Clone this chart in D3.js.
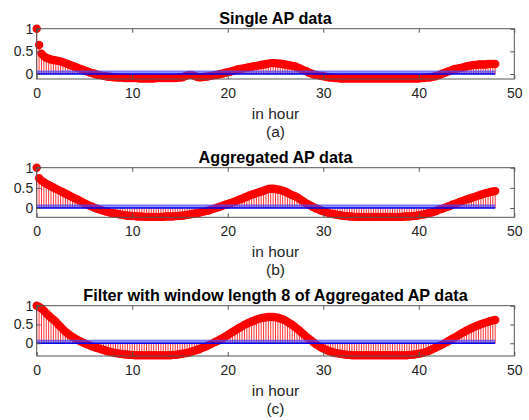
<!DOCTYPE html>
<html>
<head>
<meta charset="utf-8">
<script src="https://cdn.jsdelivr.net/npm/d3@7"></script>
<style>
  html, body { margin: 0; padding: 0; background: #fff; }
  svg { display: block; font-family: "Liberation Sans", Arial, Helvetica, sans-serif; }
</style>
</head>
<body>
<svg id="chart" width="529" height="420"></svg>
<script>
// ---- data (lag step = 0.25 hour, lags 0..48) ----
const lagStep = 0.25;

const singleAP = [
  1, 0.64, 0.45, 0.39,
  0.36, 0.34, 0.32, 0.31,
  0.30, 0.29, 0.28, 0.26,
  0.24, 0.22, 0.20, 0.18,
  0.16, 0.14, 0.12, 0.10,
  0.08, 0.06, 0.04, 0.02,
  0.01, -0.01, -0.02, -0.03,
  -0.04, -0.05, -0.06, -0.06,
  -0.07, -0.07, -0.08, -0.08,
  -0.08, -0.09, -0.09, -0.09,
  -0.09, -0.09, -0.09, -0.10,
  -0.10, -0.10, -0.10, -0.10,
  -0.10, -0.10, -0.09, -0.09,
  -0.09, -0.09, -0.09, -0.09,
  -0.09, -0.09, -0.09, -0.08,
  -0.08, -0.07, -0.05, -0.03,
  -0.02, -0.02, -0.04, -0.06,
  -0.07, -0.07, -0.06, -0.06,
  -0.05, -0.04, -0.03, -0.02,
  -0.01, 0.00, 0.01, 0.03,
  0.04, 0.05, 0.07, 0.08,
  0.10, 0.11, 0.12, 0.13,
  0.14, 0.15, 0.16, 0.17,
  0.18, 0.19, 0.20, 0.21,
  0.22, 0.23, 0.24, 0.24,
  0.24, 0.23, 0.23, 0.22,
  0.21, 0.20, 0.19, 0.18,
  0.17, 0.15, 0.13, 0.10,
  0.08, 0.06, 0.03, 0.01,
  -0.01, -0.02, -0.03, -0.04,
  -0.05, -0.06, -0.07, -0.08,
  -0.08, -0.09, -0.09, -0.10,
  -0.10, -0.10, -0.10, -0.10,
  -0.10, -0.10, -0.10, -0.10,
  -0.10, -0.10, -0.10, -0.10,
  -0.10, -0.10, -0.10, -0.10,
  -0.10, -0.10, -0.10, -0.10,
  -0.10, -0.10, -0.10, -0.10,
  -0.10, -0.10, -0.10, -0.10,
  -0.10, -0.10, -0.10, -0.10,
  -0.10, -0.09, -0.09, -0.08,
  -0.08, -0.07, -0.06, -0.05,
  -0.03, -0.01, 0.01, 0.03,
  0.05, 0.07, 0.09, 0.11,
  0.12, 0.13, 0.14, 0.15,
  0.17, 0.18, 0.19, 0.20,
  0.20, 0.21, 0.21, 0.21,
  0.21, 0.22, 0.22, 0.22,
  0.22
];

const aggregatedAP = [
  1, 0.74, 0.68, 0.64,
  0.60, 0.57, 0.54, 0.51,
  0.48, 0.45, 0.42, 0.39,
  0.36, 0.33, 0.30, 0.27,
  0.24, 0.21, 0.18, 0.15,
  0.12, 0.09, 0.06, 0.04,
  0.01, -0.01, -0.03, -0.05,
  -0.07, -0.09, -0.10, -0.12,
  -0.13, -0.14, -0.15, -0.16,
  -0.17, -0.18, -0.19, -0.19,
  -0.20, -0.20, -0.21, -0.21,
  -0.21, -0.22, -0.22, -0.22,
  -0.22, -0.22, -0.22, -0.22,
  -0.22, -0.22, -0.21, -0.21,
  -0.21, -0.21, -0.20, -0.20,
  -0.19, -0.19, -0.18, -0.17,
  -0.16, -0.15, -0.14, -0.13,
  -0.12, -0.10, -0.09, -0.07,
  -0.06, -0.04, -0.02, 0.00,
  0.02, 0.04, 0.06, 0.08,
  0.10, 0.12, 0.14, 0.16,
  0.19, 0.21, 0.23, 0.26,
  0.28, 0.31, 0.33, 0.35,
  0.37, 0.39, 0.41, 0.43,
  0.45, 0.47, 0.48, 0.48,
  0.47, 0.46, 0.45, 0.43,
  0.41, 0.38, 0.35, 0.32,
  0.30, 0.27, 0.23, 0.19,
  0.15, 0.11, 0.08, 0.05,
  0.02, -0.01, -0.03, -0.06,
  -0.08, -0.10, -0.12, -0.14,
  -0.15, -0.16, -0.17, -0.18,
  -0.19, -0.20, -0.20, -0.21,
  -0.21, -0.22, -0.22, -0.22,
  -0.22, -0.22, -0.22, -0.22,
  -0.22, -0.22, -0.22, -0.22,
  -0.22, -0.22, -0.22, -0.22,
  -0.22, -0.22, -0.22, -0.22,
  -0.22, -0.22, -0.21, -0.21,
  -0.21, -0.20, -0.20, -0.19,
  -0.18, -0.17, -0.16, -0.15,
  -0.13, -0.12, -0.10, -0.08,
  -0.05, -0.03, -0.01, 0.01,
  0.03, 0.05, 0.08, 0.10,
  0.12, 0.15, 0.17, 0.19,
  0.21, 0.23, 0.25, 0.27,
  0.29, 0.31, 0.33, 0.35,
  0.37, 0.38, 0.40, 0.41,
  0.42
];

const filteredAP = [
  1, 0.97, 0.93, 0.87,
  0.80, 0.74, 0.68, 0.63,
  0.57, 0.50, 0.44, 0.37,
  0.31, 0.26, 0.21, 0.17,
  0.13, 0.09, 0.06, 0.03,
  0.00, -0.03, -0.05, -0.08,
  -0.10, -0.12, -0.14, -0.16,
  -0.18, -0.20, -0.22, -0.23,
  -0.25, -0.26, -0.27, -0.28,
  -0.29, -0.30, -0.30, -0.31,
  -0.31, -0.32, -0.32, -0.32,
  -0.32, -0.32, -0.32, -0.32,
  -0.32, -0.32, -0.32, -0.32,
  -0.32, -0.32, -0.32, -0.32,
  -0.32, -0.31, -0.31, -0.30,
  -0.29, -0.28, -0.27, -0.26,
  -0.24, -0.22, -0.20, -0.18,
  -0.16, -0.13, -0.11, -0.08,
  -0.05, -0.02, 0.01, 0.04,
  0.07, 0.11, 0.14, 0.18,
  0.22, 0.26, 0.30, 0.34,
  0.38, 0.42, 0.45, 0.49,
  0.52, 0.55, 0.58, 0.60,
  0.63, 0.65, 0.67, 0.68,
  0.69, 0.70, 0.70, 0.70,
  0.69, 0.68, 0.66, 0.64,
  0.61, 0.57, 0.53, 0.49,
  0.44, 0.39, 0.34, 0.28,
  0.23, 0.17, 0.12, 0.07,
  0.02, -0.03, -0.07, -0.11,
  -0.14, -0.17, -0.20, -0.22,
  -0.24, -0.26, -0.27, -0.28,
  -0.29, -0.30, -0.31, -0.31,
  -0.32, -0.32, -0.32, -0.32,
  -0.32, -0.32, -0.32, -0.32,
  -0.32, -0.32, -0.32, -0.32,
  -0.32, -0.32, -0.32, -0.32,
  -0.32, -0.32, -0.32, -0.32,
  -0.32, -0.32, -0.32, -0.32,
  -0.31, -0.31, -0.30, -0.29,
  -0.28, -0.27, -0.25, -0.23,
  -0.21, -0.18, -0.15, -0.12,
  -0.09, -0.06, -0.03, 0.01,
  0.04, 0.08, 0.12, 0.15,
  0.19, 0.23, 0.27, 0.30,
  0.34, 0.37, 0.40, 0.43,
  0.46, 0.48, 0.51, 0.53,
  0.55, 0.57, 0.59, 0.61,
  0.62
];

const titles = ["Single AP data", "Aggregated AP data", "Filter with window length 8 of Aggregated AP data"];
const subLabels = ["(a)", "(b)", "(c)"];
const xLabel = "in hour";
const xTicks = [0, 10, 20, 30, 40, 50];
const yTicks = [0, 0.5, 1];
const yMins = [-0.11, -0.23, -0.34];
const bounds = [0.065, 0.075, 0.08];
const seriesList = [singleAP, aggregatedAP, filteredAP];

// ---- layout ----
const svg = d3.select("#chart");
const left = 36.7, right = 514.3;
const panels = [
  { top: 28.7, bottom: 79 },
  { top: 167.7, bottom: 217.3 },
  { top: 305.7, bottom: 356 }
];
const textColor = "#262626";
const axisColor = "#555";

const x = d3.scaleLinear().domain([0, 50]).range([left, right]);

panels.forEach((p, i) => {
  const values = seriesList[i];
  const data = values.map((v, k) => ({ lag: k * lagStep, v }));
  const y = d3.scaleLinear().domain([yMins[i], 1]).range([p.bottom, p.top]);
  const g = svg.append("g");

  // stems
  g.append("g").selectAll("line").data(data).join("line")
    .attr("x1", d => x(d.lag)).attr("x2", d => x(d.lag))
    .attr("y1", y(0)).attr("y2", d => y(d.v))
    .attr("stroke", "#ff0000").attr("stroke-width", 0.8);

  // markers
  g.append("g").selectAll("circle").data(data).join("circle")
    .attr("cx", d => x(d.lag)).attr("cy", d => y(d.v))
    .attr("r", 4.2).attr("fill", "#ff0000");

  // confidence band / zero line (blue)
  const xEnd = x(d3.max(data, d => d.lag));
  g.append("rect")
    .attr("x", x(0)).attr("width", xEnd - x(0))
    .attr("y", y(bounds[i])).attr("height", y(0) - y(bounds[i]))
    .attr("fill", "#3b3bff").attr("fill-opacity", 0.55);
  g.append("line")
    .attr("x1", x(0)).attr("x2", xEnd)
    .attr("y1", y(bounds[i])).attr("y2", y(bounds[i]))
    .attr("stroke", "#4a4aff").attr("stroke-width", 0.8);
  g.append("line")
    .attr("x1", x(0)).attr("x2", xEnd)
    .attr("y1", y(0)).attr("y2", y(0))
    .attr("stroke", "#0000ee").attr("stroke-width", 1.6);

  // box
  g.append("rect")
    .attr("x", left).attr("y", p.top)
    .attr("width", right - left).attr("height", p.bottom - p.top)
    .attr("fill", "none").attr("stroke", axisColor).attr("stroke-width", 1);

  // axes
  const styleAxis = sel => {
    sel.select(".domain").remove();
    sel.selectAll(".tick line").attr("stroke", axisColor);
    sel.selectAll(".tick text").attr("fill", textColor).style("font-size", "14px")
      .style("font-family", "'Liberation Sans', Arial, sans-serif");
  };
  g.append("g").attr("transform", `translate(0,${p.bottom})`)
    .call(d3.axisBottom(x).tickValues(xTicks).tickSize(-4).tickPadding(9).tickFormat(d3.format("d")))
    .call(styleAxis);
  g.append("g").attr("transform", `translate(0,${p.top})`)
    .call(d3.axisTop(x).tickValues(xTicks).tickSize(-4).tickFormat(""))
    .call(styleAxis);
  g.append("g").attr("transform", `translate(${left},0)`)
    .call(d3.axisLeft(y).tickValues(yTicks).tickSize(-4).tickPadding(3.5).tickFormat(d => String(d)))
    .call(styleAxis);
  g.append("g").attr("transform", `translate(${right},0)`)
    .call(d3.axisRight(y).tickValues(yTicks).tickSize(-4).tickFormat(""))
    .call(styleAxis);

  // title
  const cx = (left + right) / 2;
  g.append("text").attr("x", cx).attr("y", p.top - 5)
    .attr("text-anchor", "middle").attr("font-weight", "bold")
    .attr("font-size", "16.2px").attr("fill", "#000").text(titles[i]);

  // x label (two lines)
  g.append("text").attr("x", cx).attr("y", p.bottom + 40)
    .attr("text-anchor", "middle").attr("font-size", "15.5px").attr("fill", textColor).text(xLabel);
  g.append("text").attr("x", cx).attr("y", p.bottom + 58)
    .attr("text-anchor", "middle").attr("font-size", "15.5px").attr("fill", textColor).text(subLabels[i]);
});
</script>
</body>
</html>
